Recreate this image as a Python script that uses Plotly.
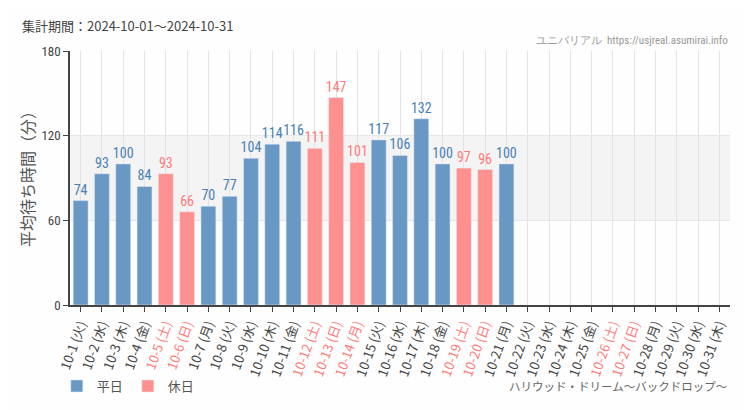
import plotly.graph_objects as go

dates = ["10-%d" % d for d in range(1, 32)]
weekdays = ["火","水","木","金","土","日","月","火","水","木","金","土","日","月","火","水","木","金","土","日","月",
            "火","水","木","金","土","日","月","火","水","木"]
holiday_flags = [0,0,0,0,1,1,0,0,0,0,0,1,1,1,0,0,0,0,1,1,0,0,0,0,0,1,1,0,0,0,0]
waits = [74,93,100,84,93,66,70,77,104,114,116,111,147,101,117,106,132,100,97,96,100,
         None,None,None,None,None,None,None,None,None,None]

BLUE = "#6a98c4"
PINK = "#ff9090"
BLUE_T = "#4a7fb5"
PINK_T = "#ff7b7b"

wk_vals = [v if (v is not None and not h) else None for v, h in zip(waits, holiday_flags)]
hd_vals = [v if (v is not None and h) else None for v, h in zip(waits, holiday_flags)]

ticktext = []
for d, w, h in zip(dates, weekdays, holiday_flags):
    t = "%s (%s)" % (d, w)
    if h:
        t = '<span style="color:%s">%s</span>' % (PINK_T, t)
    ticktext.append(t)

label_font = "Roboto Condensed, Liberation Sans Narrow, DejaVu Sans Condensed, Roboto, sans-serif"

fig = go.Figure()
fig.add_trace(go.Bar(x=dates, y=wk_vals, name="平日", marker_color=BLUE, width=0.7,
                     text=[str(v) if v is not None else "" for v in wk_vals],
                     textposition="outside", cliponaxis=False, constraintext="none",
                     textfont=dict(color=BLUE_T, size=14, family=label_font)))
fig.add_trace(go.Bar(x=dates, y=hd_vals, name="休日", marker_color=PINK, width=0.7,
                     text=[str(v) if v is not None else "" for v in hd_vals],
                     textposition="outside", cliponaxis=False, constraintext="none",
                     textfont=dict(color=PINK_T, size=14, family=label_font)))

fig.add_shape(type="rect", xref="paper", yref="y", x0=0, x1=1, y0=60, y1=120,
              fillcolor="#f3f4f3", line_width=0, layer="below")

fig.update_layout(
    width=742, height=402,
    margin=dict(l=62, r=20, t=43, b=105, autoexpand=False),
    paper_bgcolor="#fdfefd", plot_bgcolor="#fdfefd",
    barmode="overlay", bargap=0.3,
    font=dict(family="Noto Sans CJK JP, sans-serif", color="#333", size=13),
    showlegend=True,
    legend=dict(orientation="h", x=-0.02, xanchor="left", y=-0.319, yanchor="middle",
                font=dict(size=13, color="#555"), bgcolor="rgba(0,0,0,0)", itemwidth=30),
    xaxis=dict(type="category", categoryorder="array", categoryarray=dates,
               tickmode="array", tickvals=dates, ticktext=ticktext, tickangle=-70,
               showgrid=True, gridcolor="#e3e3e3", gridwidth=1, automargin=False,
               showline=True, linecolor="#444", linewidth=1.5,
               ticks="outside", ticklen=5, tickcolor="#444",
               tickfont=dict(size=13, color="#444"), range=[-0.5, 30.5]),
    yaxis=dict(range=[0, 180], tickvals=[0, 60, 120, 180], showgrid=True, automargin=False,
               gridcolor="#e6e6e6", showline=True, linecolor="#444", linewidth=1.5,
               ticks="outside", ticklen=5, tickcolor="#444", zeroline=False,
               tickfont=dict(size=13, color="#444", family=label_font)),
)

fig.add_annotation(text="集計期間：2024-10-01～2024-10-31", xref="paper", yref="paper",
                   x=-0.0758, y=1.102, xanchor="left", yanchor="middle", showarrow=False,
                   font=dict(size=13, color="#444"))
fig.add_annotation(text="ユニバリアル  https://usjreal.asumirai.info", xref="paper", yref="paper",
                   x=1, y=1.043, xanchor="right", yanchor="middle", showarrow=False,
                   font=dict(size=11, color="#999", family=label_font))
fig.add_annotation(text="ハリウッド・ドリーム～バックドロップ～", xref="paper", yref="paper",
                   x=1, y=-0.319, xanchor="right", yanchor="middle", showarrow=False,
                   font=dict(size=11.5, color="#666"))
fig.add_annotation(text="平均待ち時間（分）", xref="paper", yref="paper", textangle=-90,
                   x=-0.065, y=0.512, xanchor="center", yanchor="middle", showarrow=False,
                   font=dict(size=16, color="#555"))

fig.write_html("out.html")
